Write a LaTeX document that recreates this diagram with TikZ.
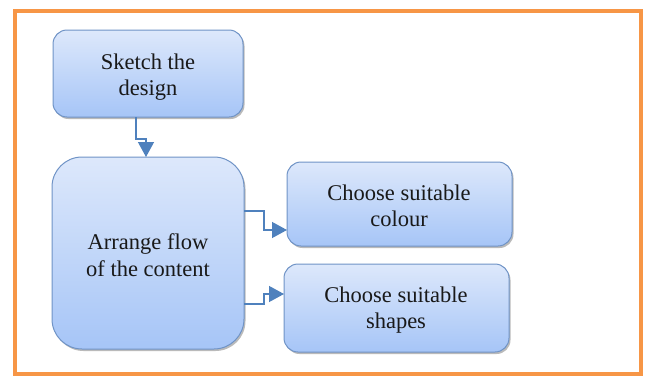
\documentclass[tikz,border=0pt]{standalone}
\usepackage{fontspec}
\setmainfont{Liberation Serif}
\usetikzlibrary{shadows,arrows.meta}
\definecolor{frameor}{HTML}{F79646}
\definecolor{boxtop}{HTML}{DDE8FB}
\definecolor{boxbot}{HTML}{A6C5F7}
\definecolor{boxline}{HTML}{6F93C6}
\definecolor{arrowc}{HTML}{4F81BD}
\begin{document}
\begin{tikzpicture}[x=1pt,y=-1pt,
  flowbox/.style={draw=boxline,line width=1pt,top color=boxtop,bottom color=boxbot,
    rounded corners=#1,
    drop shadow={shadow xshift=1.5pt,shadow yshift=-2pt,fill=black!45,opacity=0.6}},
  boxtext/.style={font=\rmfamily\fontsize{22.5}{26.5}\selectfont,align=center,text=black!90},
  conn/.style={draw=arrowc,line width=1.3pt,-{Triangle[length=15pt,width=16pt]}}]
\useasboundingbox (0,0) rectangle (646,378);
\draw[frameor,line width=3.5pt] (15,11) rectangle (641,374);
% boxes
\path[flowbox=14pt] (53,30) rectangle (243,117);
\node[boxtext] (sk) at (148,77) {Sketch the\\design};
\coordinate (skb) at (136,117);
\path[flowbox=30pt] (52,157) rectangle (244,349);
\node[boxtext] (ar) at (148,255) {Arrange flow\\of the content};
\path[flowbox=14pt] (287,162) rectangle (512,246);
\node[boxtext] (co) at (399,206) {Choose suitable\\colour};
\path[flowbox=14pt] (284,264) rectangle (509,352);
\node[boxtext] (sh) at (396,310) {Choose suitable\\shapes};
% connectors
\coordinate (art) at (146,157);
\coordinate (ar1) at (244,211);
\coordinate (ar2) at (244,304);
\coordinate (cot) at (287,230);
\coordinate (sht) at (284,294);
\draw[conn] (skb) -- (136,139) -- (146,139) -- (art);
\draw[conn] (ar1) -- (264,211) -- (264,230) -- (cot);
\draw[conn] (ar2) -- (264,304) -- (264,294) -- (sht);
\end{tikzpicture}
\end{document}
